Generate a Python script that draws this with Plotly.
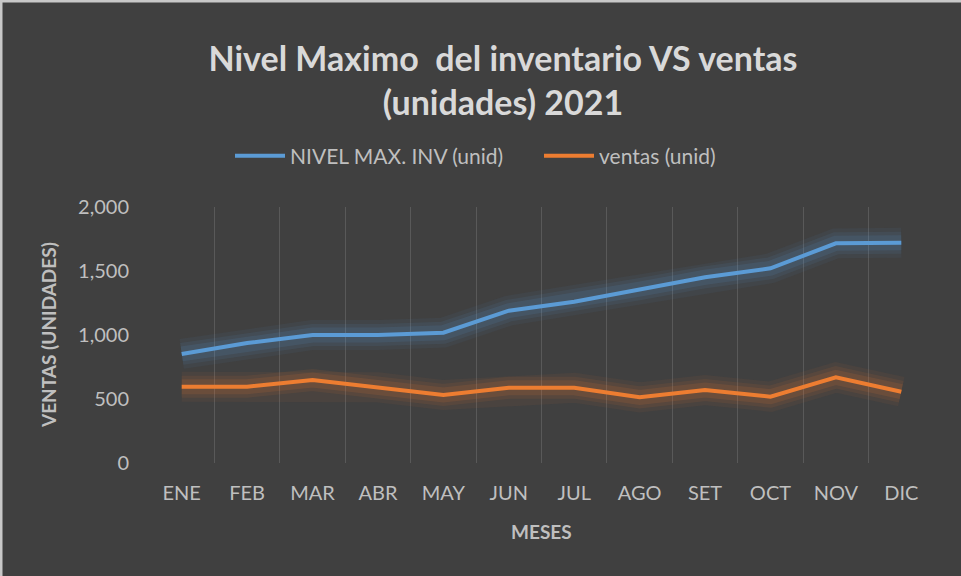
import plotly.graph_objects as go

meses = ["ENE", "FEB", "MAR", "ABR", "MAY", "JUN", "JUL", "AGO", "SET", "OCT", "NOV", "DIC"]
nivel_max_inv = [852, 937, 1000, 1000, 1018, 1190, 1260, 1359, 1451, 1521, 1716, 1721]
ventas = [596, 596, 648, 591, 531, 588, 588, 513, 570, 518, 669, 557]
y_ticks = [0, 500, 1000, 1500, 2000]
y_tick_labels = ["0", "500", "1,000", "1,500", "2,000"]
grid_vals = [500, 1000, 1500, 2000]

BLUE = "#5b9bd5"
ORANGE = "#ed7d31"
FONT = "Lato"
TXT = "#bfbfbf"
GRID = "#595959"

L, R, T, B = 149, 27, 207, 113
PW, PH = 961 - L - R, 576 - T - B


def px_x(x):
    return (x - L) / PW


def px_y(y):
    return (576 - B - y) / PH


fig = go.Figure()

# glow layers
for series, rgb in [(nivel_max_inv, "91,155,213"), (ventas, "237,125,49")]:
    for w, a in [(30, 0.06), (22, 0.09), (15, 0.12)]:
        fig.add_trace(go.Scatter(
            x=meses, y=series, mode="lines",
            line=dict(color=f"rgba({rgb},{a})", width=w),
            showlegend=False, hoverinfo="skip"))

fig.add_trace(go.Scatter(x=meses, y=nivel_max_inv, mode="lines",
                         name="NIVEL MAX. INV (unid)",
                         line=dict(color=BLUE, width=4)))
fig.add_trace(go.Scatter(x=meses, y=ventas, mode="lines",
                         name="ventas (unid)",
                         line=dict(color=ORANGE, width=4)))

fig.update_layout(
    width=961, height=576,
    paper_bgcolor="#404040", plot_bgcolor="#404040",
    margin=dict(l=L, r=R, t=T, b=B, autoexpand=False),
    title=dict(text="<b>Nivel Maximo  del inventario VS ventas<br>(unidades) 2021</b>",
               x=503 / 961, xanchor="center", xref="container",
               y=1 - 71 / 576, yanchor="middle", yref="container",
               font=dict(family=FONT, size=34, color="#d9d9d9")),
    legend=dict(orientation="h", x=230 / 961, xanchor="left", xref="container",
                y=1 - 156 / 576, yanchor="middle", yref="container",
                font=dict(family=FONT, size=21, color=TXT),
                bgcolor="rgba(0,0,0,0)", itemwidth=50,
                entrywidth=244, entrywidthmode="pixels"),
    xaxis=dict(
        showgrid=True, gridcolor=GRID, gridwidth=1,
        showline=False, zeroline=False, ticks="",
        tickfont=dict(family=FONT, size=20, color=TXT),
        range=[-0.5, 11.5], tickson="boundaries", automargin=False,
        ticklabelstandoff=16,
    ),
    yaxis=dict(
        range=[0, 2000], tickvals=y_ticks, ticktext=y_tick_labels,
        showgrid=False, zeroline=False, showline=False, ticks="",
        tickfont=dict(family=FONT, size=20, color=TXT), automargin=False,
        ticklabelstandoff=19,
    ),
    yaxis2=dict(
        range=[0, 2000], overlaying="y", side="left", tickvals=grid_vals,
        showticklabels=False, showgrid=True, gridcolor=GRID, gridwidth=1,
        zeroline=False, showline=False, ticks="", automargin=False,
    ),
    showlegend=True,
    annotations=[
        dict(text="<b>MESES</b>", xref="paper", yref="paper",
             x=px_x(541), y=px_y(531), xanchor="center", yanchor="middle",
             showarrow=False, font=dict(family=FONT, size=19, color=TXT)),
        dict(text="<b>VENTAS (UNIDADES)</b>", xref="paper", yref="paper",
             x=px_x(48), y=px_y(335), xanchor="center", yanchor="middle",
             textangle=-90, showarrow=False,
             font=dict(family=FONT, size=19, color=TXT)),
    ],
)

# light border at top and left of the image
fig.add_shape(type="line", xref="paper", yref="paper", x0=px_x(0), x1=px_x(961),
              y0=px_y(1), y1=px_y(1), line=dict(color="#c8c8c8", width=3))
fig.add_shape(type="line", xref="paper", yref="paper", x0=px_x(1), x1=px_x(1),
              y0=px_y(576), y1=px_y(0), line=dict(color="#c8c8c8", width=3))

fig.write_html("out.html", config={"displayModeBar": False},
               post_script="document.body.style.margin='0';document.body.style.padding='0';")
